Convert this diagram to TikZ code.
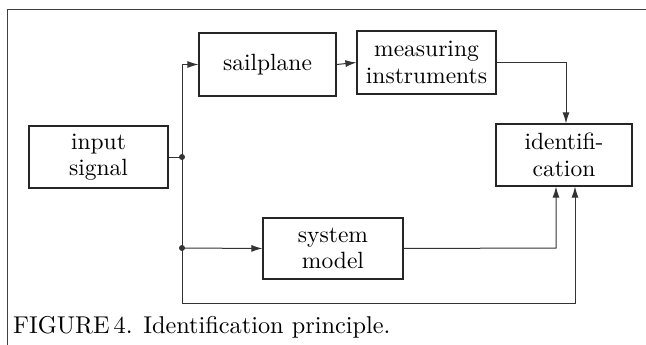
\documentclass[tikz,border=0pt]{standalone}
\usepackage{fontspec}
\setmainfont{lmroman10}[Extension=.otf,UprightFont=*-regular,BoldFont=*-bold,ItalicFont=*-italic,BoldItalicFont=*-bolditalic]
\usetikzlibrary{arrows.meta}
\begin{document}
\begin{tikzpicture}[x=1pt,y=-1pt,
  blk/.style={draw=black!85,line width=1.2pt,inner sep=0pt,align=center,
    font=\fontsize{23.5}{26.5}\selectfont},
  conn/.style={draw=black!80,line width=1pt},
  arr/.style={conn,-{Latex[length=11pt,width=7pt]}},
  dot/.style={circle,fill=black!80,inner sep=0pt,minimum size=6pt}]
\useasboundingbox (0,0) rectangle (646,345);
\fill[white] (0,0) rectangle (646,345);
\draw[black!75,line width=1pt] (7,345) -- (7,10) -- (646,10);
\node[blk,minimum width=139pt,minimum height=62pt] (inp) at (98.5,157) {input\\signal};
\node[blk,minimum width=137pt,minimum height=63pt] (sail) at (267.5,64.5) {sailplane};
\node[blk,minimum width=139pt,minimum height=63pt] (meas) at (426.5,62.5) {measuring\\instruments};
\node[blk,minimum width=136pt,minimum height=62pt] (ident) at (564,155) {identifi-\\cation};
\node[blk,minimum width=140pt,minimum height=61pt] (sys) at (333,248.5) {system\\model};
\node[dot] (j1) at (182,157) {};
\node[dot] (j2) at (182,248) {};
\coordinate (top) at (182,64.5);
\coordinate (bot) at (182,303);
\coordinate (br) at (575,303);
\coordinate (sr) at (556,248);
\coordinate (mr) at (566,62.5);
\draw[conn] (inp.east) -- (j1.center);
\draw[conn] (top) -- (bot);
\draw[arr] (top) -- (sail.west);
\draw[arr] (j2.center) -- (sys.west);
\draw[arr] (sail.east) -- (meas.west);
\draw[arr] (meas.east) -- (mr) -- (mr |- ident.north);
\draw[arr] (sys.east) -- (sr) -- (sr |- ident.south);
\draw[arr] (bot) -- (br) -- (br |- ident.south);
\node[anchor=base west,inner sep=0pt,font=\fontsize{24.3}{26}\selectfont] (cap) at (13,333) {FIGURE\,4. Identification principle.};
\end{tikzpicture}
\end{document}
